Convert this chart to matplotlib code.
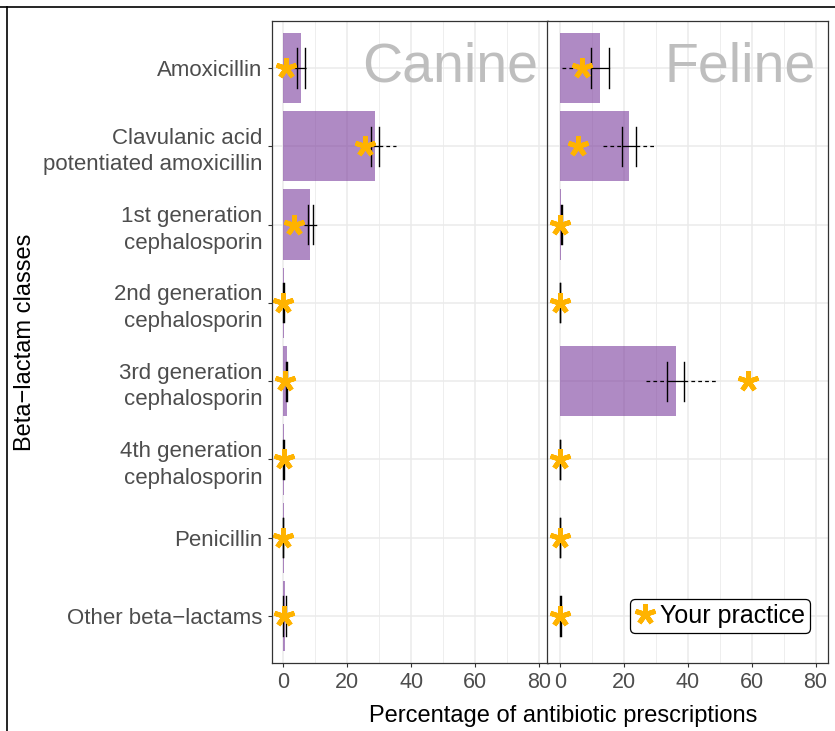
import matplotlib
matplotlib.use('Agg')
import matplotlib.pyplot as plt
from matplotlib.lines import Line2D
import numpy as np

plt.rcParams['font.family'] = ['Liberation Sans', 'DejaVu Sans']

# Categorias (de cima para baixo)
categorias = ['Amoxicillin',
              'Clavulanic acid\npotentiated amoxicillin',
              '1st generation\ncephalosporin',
              '2nd generation\ncephalosporin',
              '3rd generation\ncephalosporin',
              '4th generation\ncephalosporin',
              'Penicillin',
              'Other beta\u2212lactams']

# Canino
canino_pct = [5.5, 28.7, 8.5, 0.1, 1.1, 0.1, 0.1, 0.6]
canino_q1 = [4.3, 27.3, 7.7, 0.0, 0.9, 0.0, 0.0, 0.0]
canino_q3 = [6.7, 30.0, 9.2, 0.1, 1.2, 0.1, 0.0, 0.9]
canino_min = [3.1, 26.0, 6.5, 0.0, 0.5, 0.0, 0.0, 0.0]
canino_max = [7.2, 35.4, 11.2, 0.2, 1.5, 0.1, 0.1, 1.0]
canino_voce = [0.8, 25.5, 3.5, 0.0, 0.5, 0.1, 0.0, 0.2]

# Felino
felino_pct = [12.5, 21.7, 0.5, 0.1, 36.3, 0.1, 0.1, 0.2]
felino_q1 = [9.7, 19.6, 0.3, 0.0, 33.4, 0.0, 0.0, 0.1]
felino_q3 = [15.4, 23.8, 0.6, 0.1, 39.0, 0.1, 0.0, 0.4]
felino_min = [0.7, 13.4, 0.2, 0.0, 27.0, 0.0, 0.0, 0.0]
felino_max = [15.4, 29.9, 0.8, 0.2, 49.1, 0.1, 0.1, 0.5]
felino_voce = [7.0, 5.6, 0.0, 0.0, 59.0, 0.0, 0.0, 0.0]

W, H = 835, 731
fig = plt.figure(figsize=(W / 100, H / 100), dpi=100)

def caixa(l, r, t, b):
    return [l / W, 1 - b / H, (r - l) / W, (b - t) / H]

ax1 = fig.add_axes(caixa(271.7, 548.3, 21, 663))
ax2 = fig.add_axes(caixa(547.3, 828, 21, 663))

ypos = np.arange(len(categorias))[::-1] + 1
cor_barra = '#7B3C9D'
cor_estrela = '#FFB300'

def painel(ax, pct, q1, q3, mn, mx, voce, nome, xlim, x_txt):
    ax.set_xlim(*xlim)
    ax.set_ylim(0.4, len(categorias) + 0.6)
    ax.set_xticks([0, 20, 40, 60, 80])
    ax.set_xticks([10, 30, 50, 70], minor=True)
    ax.set_yticks(ypos)
    ax.grid(True, which='major', color='#EBEBEB', linewidth=1.1)
    ax.grid(True, which='minor', axis='x', color='#EBEBEB', linewidth=0.6)
    ax.set_axisbelow(True)
    ax.tick_params(axis='y', which='minor', left=False)
    ax.tick_params(which='major', length=3, width=0.8, color='#333333',
                   labelsize=15.5, labelcolor='#4D4D4D')
    ax.tick_params(axis='y', labelsize=16)
    ax.tick_params(axis='x', which='minor', bottom=False)
    for s in ax.spines.values():
        s.set_color('#333333')
        s.set_linewidth(0.9)

    ax.barh(ypos, pct, height=0.9, color=cor_barra, alpha=0.6, linewidth=0)
    for y, a, b, c, d in zip(ypos, q1, q3, mn, mx):
        ax.plot([c, a], [y, y], color='black', linestyle=(0, (3, 2.5)), linewidth=0.9)
        ax.plot([b, d], [y, y], color='black', linestyle=(0, (3, 2.5)), linewidth=0.9)
        ax.plot([a, b], [y, y], color='black', linewidth=0.9)
        ax.plot([a, a], [y - 0.25, y + 0.25], color='black', linewidth=1.0)
        ax.plot([b, b], [y - 0.25, y + 0.25], color='black', linewidth=1.0)
    ax.plot(voce, ypos, linestyle='none', marker=(5, 2, 0), markersize=15,
            markeredgewidth=3.5, color=cor_estrela, label='Your practice')
    ax.text(x_txt, ypos[0], nome, transform=ax.get_yaxis_transform(),
            ha='right', va='center', fontsize=40, color='#BEBEBE')

painel(ax1, canino_pct, canino_q1, canino_q3, canino_min, canino_max,
       canino_voce, 'Canine', (-3.6, 82.9), 0.962)
painel(ax2, felino_pct, felino_q1, felino_q3, felino_min, felino_max,
       felino_voce, 'Feline', (-3.9, 83.9), 0.955)

ax1.set_yticklabels(categorias, linespacing=1.35)
ax2.tick_params(axis='y', left=False, labelleft=False)

leg = ax2.legend(loc='lower right', bbox_to_anchor=(810 / W, 1 - 633 / H),
                 bbox_transform=fig.transFigure, fontsize=18, frameon=True,
                 fancybox=True, edgecolor='black', handlelength=0.8,
                 handletextpad=0.2, borderpad=0.2, borderaxespad=0)
leg.get_frame().set_linewidth(0.9)
leg.get_frame().set_alpha(1)

fig.text(563 / W, 1 - 716 / H, 'Percentage of antibiotic prescriptions',
         ha='center', va='center', fontsize=17)
fig.text(25 / W, 1 - 342 / H, 'Beta\u2212lactam classes', rotation=90,
         ha='center', va='center', fontsize=17)

# Moldura superior e esquerda
fig.add_artist(Line2D([0, 1], [1 - 6.5 / H, 1 - 6.5 / H], color='black',
                      linewidth=1.2, transform=fig.transFigure))
fig.add_artist(Line2D([6.5 / W, 6.5 / W], [0, 1 - 6.5 / H], color='black',
                      linewidth=1.2, transform=fig.transFigure))

fig.savefig('out.png', dpi=100)
